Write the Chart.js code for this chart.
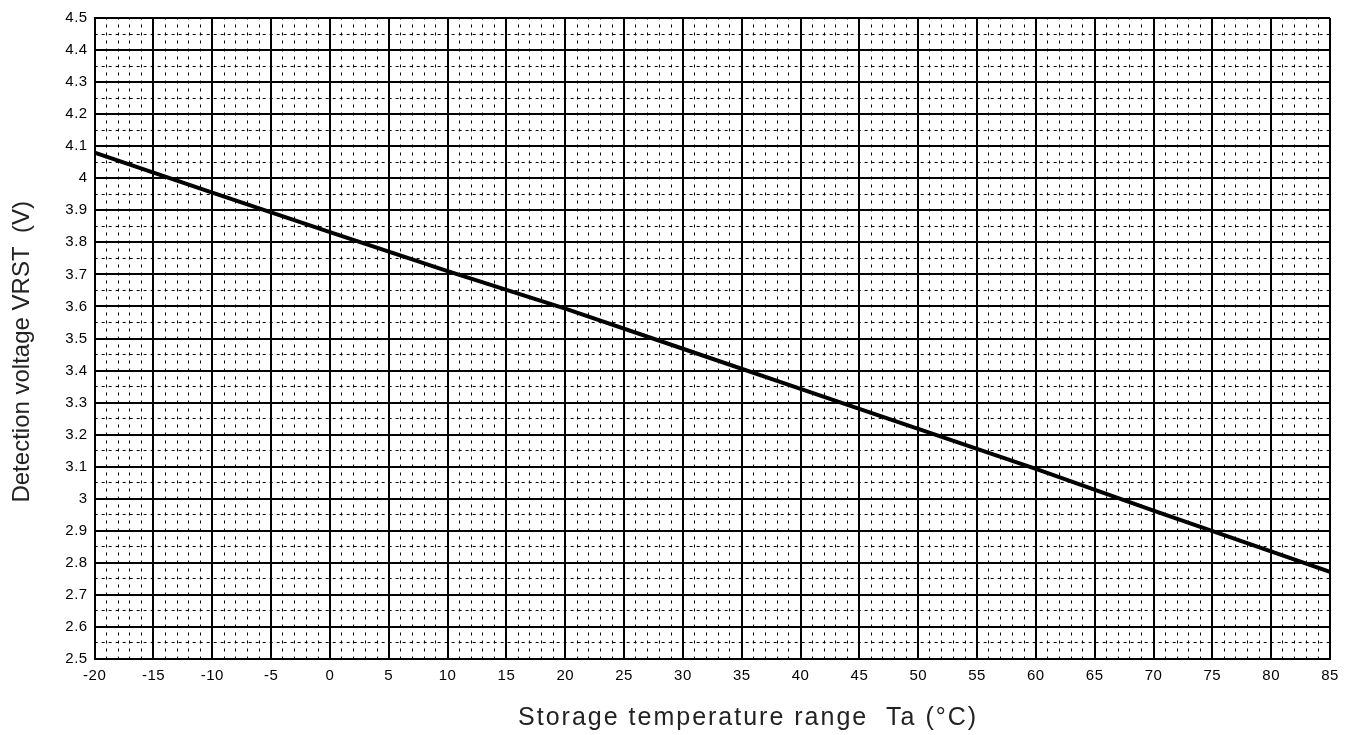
<!DOCTYPE html>
<html>
<head>
<meta charset="utf-8">
<title>Detection voltage vs temperature</title>
<script src="https://cdn.jsdelivr.net/npm/chart.js@4/dist/chart.umd.min.js"></script>
<style>
  html, body { margin: 0; padding: 0; background: #fff; }
  #wrap { width: 1356px; height: 735px; }
</style>
</head>
<body>
<div id="wrap"><canvas id="chart"></canvas></div>
<script>
// values
const temps = [-20, -10, 0, 10, 20, 30, 40, 50, 60, 70, 85];
const voltages = [4.08, 3.955, 3.832, 3.71, 3.593, 3.468, 3.343, 3.218, 3.093, 2.963, 2.772];

const xMin = -20, xMax = 85, xStep = 5, xMinorStep = 1;
const yMin = 2.5, yMax = 4.5, yStep = 0.1, yMinorStep = 0.05;

// blanks nudge the centred titles a little, as in the original
const xTitle = '        Storage temperature range  Ta (°C)';
const yTitle = 'Detection voltage VRST  (V)    ';

Chart.defaults.font.family = '"Liberation Sans", Arial, sans-serif';
Chart.defaults.color = '#000';

// linear scale that can draw its title / tick labels with extra letter spacing
class SpacedScale extends Chart.LinearScale {
    static id = 'spacedLinear';
    drawTitle() {
        this.ctx.letterSpacing = (this.options.title.letterSpacing || 0) + 'px';
        super.drawTitle();
        this.ctx.letterSpacing = '0px';
    }
    drawLabels(area) {
        this.ctx.letterSpacing = (this.options.ticks.letterSpacing || 0) + 'px';
        super.drawLabels(area);
        this.ctx.letterSpacing = '0px';
    }
}
Chart.register(SpacedScale);

const ctx = document.getElementById('chart').getContext('2d');
new Chart(ctx, {
    type: 'line',
    data: {
        datasets: [{
            data: temps.map((t, i) => ({ x: t, y: voltages[i] })),
            borderColor: '#000',
            borderWidth: 4,
            pointRadius: 0,
            tension: 0,
            fill: false
        }]
    },
    options: {
        responsive: true,
        maintainAspectRatio: false,
        animation: false,
        layout: { padding: { top: 18, right: 26, bottom: 0, left: 0 } },
        plugins: {
            legend: { display: false },
            tooltip: { enabled: false }
        },
        scales: {
            x: {
                type: 'spacedLinear',
                position: 'bottom',
                min: xMin,
                max: xMax,
                ticks: { stepSize: xStep, font: { size: 15 }, padding: 8, color: '#000', letterSpacing: 0.5 },
                grid: { color: '#000', lineWidth: 2, drawTicks: false },
                border: { color: '#000', width: 2 },
                title: {
                    display: true,
                    text: xTitle,
                    font: { size: 25 },
                    color: '#222',
                    letterSpacing: 2,
                    padding: { top: 10, bottom: 2 }
                }
            },
            y: {
                type: 'spacedLinear',
                position: 'left',
                min: yMin,
                max: yMax,
                ticks: {
                    stepSize: yStep,
                    font: { size: 15 },
                    padding: 7,
                    color: '#000',
                    letterSpacing: 0.5,
                    callback: v => String(+v.toFixed(2))
                },
                grid: { color: '#000', lineWidth: 2, drawTicks: false },
                border: { color: '#000', width: 2 },
                title: {
                    display: true,
                    text: yTitle,
                    font: { size: 24 },
                    color: '#222',
                    padding: { top: 8, bottom: 23 }
                }
            },
            // minor grid: dashed lines every 1 °C and every 0.05 V
            xMinor: {
                type: 'linear',
                position: 'top',
                min: xMin,
                max: xMax,
                ticks: { display: false, stepSize: xMinorStep },
                grid: { color: '#000', lineWidth: 1, drawTicks: false },
                border: { display: false, dash: [3, 5], dashOffset: 1.5 }
            },
            yMinor: {
                type: 'linear',
                position: 'right',
                min: yMin,
                max: yMax,
                ticks: { display: false, stepSize: yMinorStep },
                grid: { color: '#000', lineWidth: 1, drawTicks: false },
                border: { display: false, dash: [3, 4] }
            }
        }
    }
});
</script>
</body>
</html>
